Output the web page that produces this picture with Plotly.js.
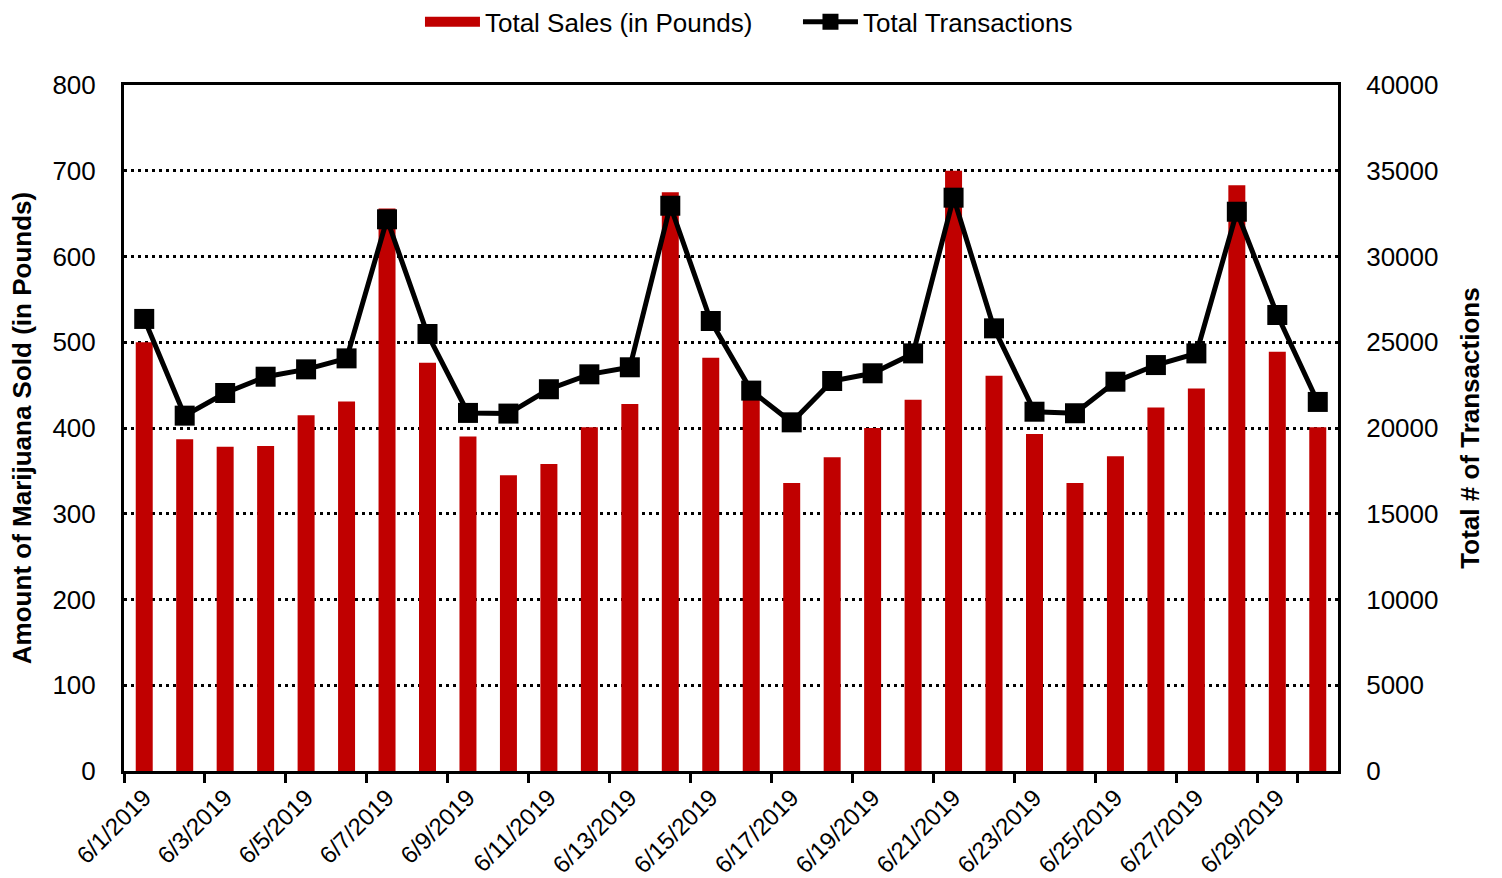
<!DOCTYPE html>
<html>
<head>
<meta charset="utf-8">
<script src="https://cdn.plot.ly/plotly-3.0.1.min.js"></script>
<style>
html,body{margin:0;padding:0;background:#fff;}
#chart{width:1502px;height:878px;}
</style>
</head>
<body>
<div id="chart"></div>
<script>
const dates = ["6/1/2019","6/2/2019","6/3/2019","6/4/2019","6/5/2019","6/6/2019","6/7/2019","6/8/2019","6/9/2019","6/10/2019",
  "6/11/2019","6/12/2019","6/13/2019","6/14/2019","6/15/2019","6/16/2019","6/17/2019","6/18/2019","6/19/2019","6/20/2019",
  "6/21/2019","6/22/2019","6/23/2019","6/24/2019","6/25/2019","6/26/2019","6/27/2019","6/28/2019","6/29/2019","6/30/2019"];
const salesPounds = [500,387,378,379,415,431,656,476,390,345,
  358,401,428,675,482,436,336,366,400,433,
  700,461,393,336,367,424,446,683,489,401];
const transactions = [26360,20720,22040,22990,23420,24060,32170,25480,20880,20840,
  22260,23130,23540,32960,26240,22180,20330,22740,23190,24350,
  33430,25810,20950,20860,22700,23670,24350,32610,26590,21520];
const leftTicks = [0,100,200,300,400,500,600,700,800];
const rightTicks = [0,5000,10000,15000,20000,25000,30000,35000,40000];
const labelDates = dates.filter((d,i)=>i%2===0);

const FONT = '"Liberation Sans", Arial, sans-serif';
const RED = '#C00000';

const traces = [
  {
    type:'bar', name:'Total Sales (in Pounds)', x:dates, y:salesPounds,
    marker:{color:RED}, yaxis:'y', showlegend:false, legendgroup:'sales'
  },
  {
    // legend swatch for the bars (wide red block as in the reference)
    type:'scatter', mode:'lines', name:'Total Sales (in Pounds)', x:[null], y:[null],
    line:{color:RED, width:14}, yaxis:'y', showlegend:true, legendgroup:'sales', hoverinfo:'skip'
  },
  {
    type:'scatter', mode:'lines+markers', name:'Total Transactions', x:dates, y:transactions,
    line:{color:'#000000', width:5}, marker:{symbol:'square', size:20, color:'#000000'},
    yaxis:'y2'
  }
];

const layout = {
  width:1502, height:878,
  margin:{l:124, r:164, t:85, b:107, pad:0, autoexpand:false},
  paper_bgcolor:'#ffffff', plot_bgcolor:'#ffffff',
  font:{family:FONT, size:26, color:'#000'},
  bargap:0.58,
  showlegend:true,
  legend:{orientation:'h', x:0.2438, xanchor:'left', y:1.092, yanchor:'middle',
    font:{family:FONT, size:26, color:'#000'}, itemwidth:55, entrywidth:308, entrywidthmode:'pixels',
    traceorder:'normal', bgcolor:'rgba(0,0,0,0)', tracegroupgap:0},
  xaxis:{
    type:'category', categoryorder:'array', categoryarray:dates,
    range:[-0.5, 29.5], autorange:false,
    tickmode:'array', tickvals:labelDates, ticktext:labelDates,
    tickson:'boundaries', ticks:'outside', ticklen:9, tickwidth:3, tickcolor:'#000',
    tickangle:-45, tickfont:{family:FONT, size:24, color:'#000'},
    showline:true, linewidth:3, linecolor:'#000', mirror:true,
    showgrid:false, zeroline:false, automargin:false
  },
  yaxis:{
    range:[0,800], autorange:false, tickmode:'array', tickvals:leftTicks, ticktext:leftTicks.map(String),
    showgrid:true, gridcolor:'#000', gridwidth:3, griddash:'3px,4px',
    showline:true, linewidth:3, linecolor:'#000', mirror:false,
    ticks:'', zeroline:false, ticklabelstandoff:20,
    tickfont:{family:FONT, size:26, color:'#000'},
    title:{text:'Amount of Marijuana Sold (in Pounds)', standoff:14,
      font:{family:FONT, size:26, color:'#000', weight:'bold'}},
    automargin:false
  },
  yaxis2:{
    overlaying:'y', side:'right', range:[0,40000], autorange:false,
    tickmode:'array', tickvals:rightTicks, ticktext:rightTicks.map(String),
    showgrid:false, zeroline:false, showline:true, linewidth:3, linecolor:'#000',
    ticks:'', ticklabelstandoff:20,
    tickfont:{family:FONT, size:26, color:'#000'},
    title:{text:'Total # of Transactions', standoff:24,
      font:{family:FONT, size:26, color:'#000', weight:'bold'}},
    automargin:false
  }
};

Plotly.newPlot('chart', traces, layout, {displayModeBar:false, staticPlot:true});
</script>
</body>
</html>
